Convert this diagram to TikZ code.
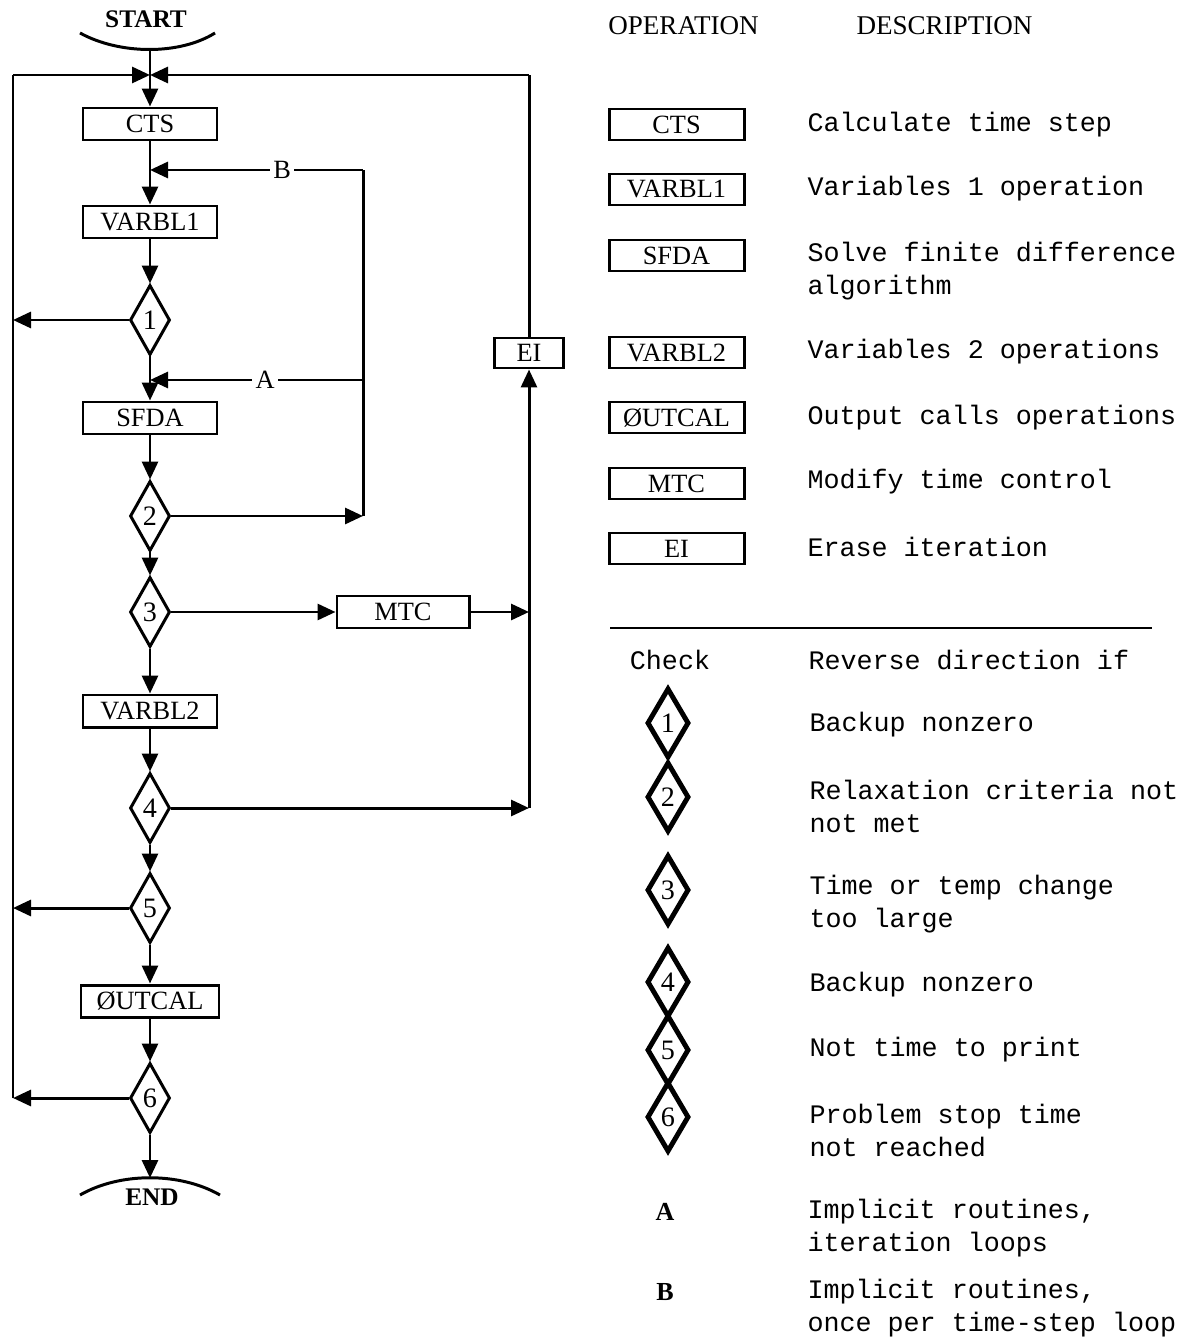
\documentclass[tikz,border=0pt]{standalone}
\usepackage{fontspec}
\setmainfont{Liberation Serif}
\setmonofont{Liberation Mono}
\usetikzlibrary{arrows.meta,shapes.geometric}

\begin{document}
\begin{tikzpicture}[
        line width=0.85pt,
        box/.style={draw, minimum width=1.34cm, minimum height=0.32cm, inner sep=0pt, font=\fontsize{7.5}{9}\selectfont},
        legbox/.style={box, minimum width=1.35cm, minimum height=0.31cm},
        check/.style={diamond, draw, minimum width=0.40cm, minimum height=0.70cm, inner sep=0pt, font=\fontsize{8}{9}\selectfont},
        legcheck/.style={check, line width=1.4pt, minimum width=0.42cm, minimum height=0.70cm},
        term/.style={inner sep=0pt, font=\bfseries\fontsize{7.2}{8}\selectfont},
        flow/.style={-{Triangle[length=0.18cm, width=0.16cm]}},
        lab/.style={fill=white, inner sep=1pt, font=\fontsize{7.5}{9}\selectfont},
        head/.style={inner sep=0pt, font=\fontsize{7.7}{9}\selectfont},
        desc/.style={anchor=west, align=left, inner sep=0pt, font=\ttfamily\fontsize{7.6}{9.4}\selectfont},
        tag/.style={inner sep=0pt, font=\bfseries\fontsize{7.4}{9}\selectfont}
    ]

        \useasboundingbox (0,0) rectangle (12.01,-13.40);

        % ========================================================
        % FLOW CHART
        % ========================================================
        \node[term] (start) at (1.46,-0.19) {START};
        \draw (0.80,-0.33) .. controls (1.20,-0.55) and (1.80,-0.55) .. (2.15,-0.33);
        \coordinate (startpt) at (1.50,-0.49);

        \coordinate (join) at (1.50,-0.75);
        \coordinate (tl) at (0.13,-0.75);
        \coordinate (tr) at (5.29,-0.75);

        \node[box] (cts) at (1.50,-1.24) {CTS};
        \node[box] (v1) at (1.50,-2.22) {VARBL1};
        \node[check] (d1) at (1.50,-3.20) {1};
        \node[box] (sfda) at (1.50,-4.18) {SFDA};
        \node[check] (d2) at (1.50,-5.16) {2};
        \node[check] (d3) at (1.50,-6.12) {3};
        \node[box, minimum width=1.32cm] (mtc) at (4.03,-6.12) {MTC};
        \node[box] (v2) at (1.50,-7.11) {VARBL2};
        \node[check] (d4) at (1.50,-8.08) {4};
        \node[check] (d5) at (1.50,-9.08) {5};
        \node[box, minimum width=1.38cm] (out) at (1.50,-10.01) {ØUTCAL};
        \node[check] (d6) at (1.50,-10.98) {6};
        \node[box, minimum width=0.69cm, minimum height=0.30cm] (ei) at (5.29,-3.53) {EI};

        \draw (0.80,-11.95) .. controls (1.20,-11.72) and (1.80,-11.72) .. (2.20,-11.95);
        \coordinate (endpt) at (1.50,-11.78);
        \node[term] (end) at (1.52,-11.97) {END};

        \coordinate (bcorner) at (3.63,-1.70);
        \coordinate (acorner) at (3.63,-3.80);

        % main line and outer loop
        \draw (startpt) -- (join);
        \draw[flow] (join) -- (cts);
        \draw[flow] (tl) -- (join);
        \draw[flow] (tr) -- (join);
        \draw (d6 -| tl) -- (tl);
        \draw (ei) -- (tr);

        \draw[flow] (cts) -- (v1);
        \draw[flow] (bcorner) -- node[lab, pos=0.38] {B} (bcorner -| v1);
        \draw[flow] (v1) -- (d1);
        \draw[flow] (d1.west) -- (d1 -| tl);
        \draw[flow] (d1) -- (sfda);
        \draw[flow] (acorner) -- node[lab, pos=0.46] {A} (acorner -| sfda);
        \draw[flow] (sfda) -- (d2);
        \draw[flow] (d2.east) -- (d2 -| bcorner);
        \draw (d2 -| bcorner) -- (bcorner);
        \draw[flow] (d2) -- (d3);
        \draw[flow] (d3.east) -- (mtc.west);
        \draw[flow] (mtc.east) -- (mtc -| ei);
        \draw[flow] (d3) -- (v2);
        \draw[flow] (v2) -- (d4);
        \draw[flow] (d4.east) -- (d4 -| ei);
        \draw[flow] (d4 -| ei) -- (ei);
        \draw[flow] (d4) -- (d5);
        \draw[flow] (d5.west) -- (d5 -| tl);
        \draw[flow] (d5) -- (out);
        \draw[flow] (out) -- (d6);
        \draw[flow] (d6.west) -- (d6 -| tl);
        \draw[flow] (d6) -- (endpt);

        % ========================================================
        % OPERATIONS
        % ========================================================
        \node[head] (ophead) at (6.835,-0.26) {OPERATION};
        \node[head] (dshead) at (9.445,-0.26) {DESCRIPTION};

        \node[legbox] (kcts) at (6.765,-1.245) {CTS};
        \node[legbox] (kv1) at (6.765,-1.895) {VARBL1};
        \node[legbox] (ksfda) at (6.765,-2.555) {SFDA};
        \node[legbox] (kv2) at (6.765,-3.525) {VARBL2};
        \node[legbox] (kout) at (6.765,-4.175) {ØUTCAL};
        \node[legbox] (kmtc) at (6.765,-4.835) {MTC};
        \node[legbox] (kei) at (6.765,-5.485) {EI};

        \node[desc] (tcts) at (8.06,-1.25) {Calculate time step};
        \node[desc] (tv1) at (8.06,-1.89) {Variables 1 operation};
        \node[desc] (tsfda) at (8.06,-2.715) {Solve finite difference\\algorithm};
        \node[desc] (tv2) at (8.06,-3.52) {Variables 2 operations};
        \node[desc] (tout) at (8.06,-4.18) {Output calls operations};
        \node[desc] (tmtc) at (8.06,-4.82) {Modify time control};
        \node[desc] (tei) at (8.06,-5.47) {Erase iteration};

        % ========================================================
        % CHECKS
        % ========================================================
        \draw[line width=0.6pt] (6.10,-6.28) -- (11.52,-6.28);

        \node[desc, anchor=center] (ckhead) at (6.70,-6.60) {Check};
        \node[desc] (rvhead) at (8.07,-6.60) {Reverse direction if};

        \node[legcheck] (k1) at (6.68,-7.23) {1};
        \node[legcheck] (k2) at (6.68,-7.97) {2};
        \node[legcheck] (k3) at (6.68,-8.90) {3};
        \node[legcheck] (k4) at (6.68,-9.82) {4};
        \node[legcheck] (k5) at (6.68,-10.50) {5};
        \node[legcheck] (k6) at (6.68,-11.17) {6};

        \node[desc] (t1) at (8.08,-7.25) {Backup nonzero};
        \node[desc] (t2) at (8.08,-8.065) {Relaxation criteria not\\not met};
        \node[desc] (t3) at (8.08,-9.04) {Time or temp change\\too large};
        \node[desc] (t4) at (8.08,-9.85) {Backup nonzero};
        \node[desc] (t5) at (8.08,-10.50) {Not time to print};
        \node[desc] (t6) at (8.08,-11.305) {Problem stop time\\not reached};

        \node[tag] (ka) at (6.65,-12.12) {A};
        \node[tag] (kb) at (6.65,-12.92) {B};
        \node[desc] (ta) at (8.06,-12.285) {Implicit routines,\\iteration loops};
        \node[desc] (tb) at (8.06,-13.085) {Implicit routines,\\once per time-step loop};

    \end{tikzpicture}
\end{document}
